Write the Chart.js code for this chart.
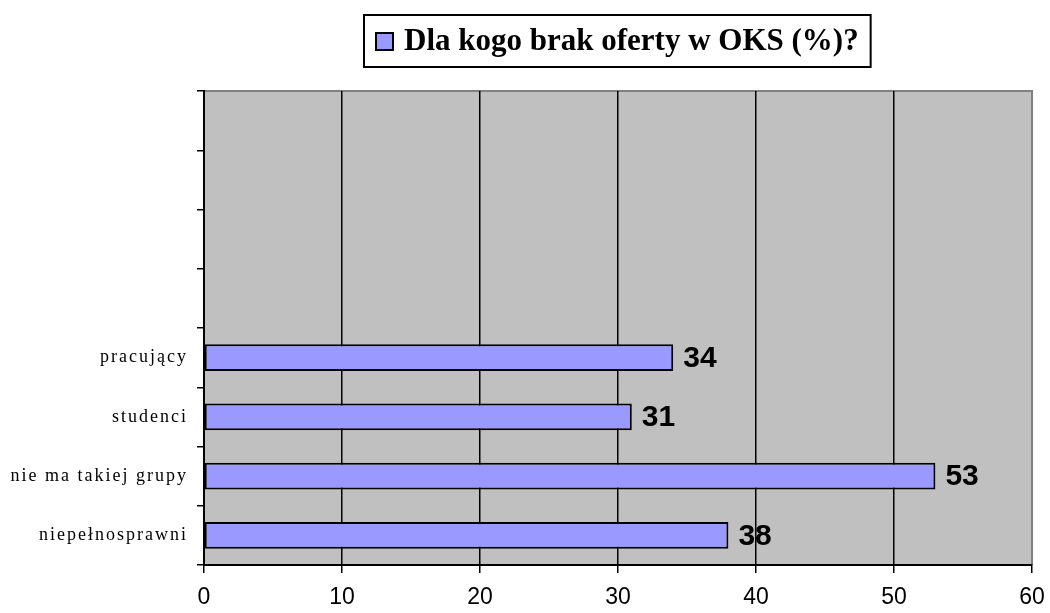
<!DOCTYPE html>
<html>
<head>
<meta charset="utf-8">
<script src="https://cdn.jsdelivr.net/npm/chart.js@4"></script>
<style>
  body { margin: 0; background: #fff; }
</style>
</head>
<body>
<canvas id="chart" width="1050" height="613"></canvas>
<script>
// categories from top to bottom (top four rows are empty in the original)
const categories = ['', '', '', '', 'pracujący', 'studenci', 'nie ma takiej grupy', 'niepełnosprawni'];
const values = [null, null, null, null, 34, 31, 53, 38];
const xTicks = [0, 10, 20, 30, 40, 50, 60];
const seriesName = 'Dla kogo brak oferty w OKS (%)?';

const barFill = '#9999FF';
const plotGray = '#C0C0C0';

const plotBg = {
  id: 'plotBg',
  beforeDraw(chart) {
    const { ctx, chartArea: a } = chart;
    ctx.save();
    ctx.fillStyle = plotGray;
    ctx.fillRect(a.left, a.top, a.right - a.left, a.bottom - a.top);
    ctx.strokeStyle = '#808080';
    ctx.lineWidth = 2;
    ctx.beginPath();
    ctx.moveTo(a.left, a.top);
    ctx.lineTo(a.right, a.top);
    ctx.lineTo(a.right, a.bottom);
    ctx.stroke();
    ctx.restore();
  },
  afterLayout(chart) {
    const y = chart.scales.y;
    if (y && !y._spaced) {
      const orig = y.drawLabels;
      y.drawLabels = function (area) {
        const c = this.ctx;
        c.save();
        c.letterSpacing = '2px';
        orig.call(this, area);
        c.restore();
      };
      y._spaced = true;
    }
  }
};

const valueLabels = {
  id: 'valueLabels',
  afterDatasetsDraw(chart) {
    const { ctx } = chart;
    const meta = chart.getDatasetMeta(0);
    ctx.save();
    ctx.font = 'bold 30px "Liberation Sans", Arial, sans-serif';
    ctx.fillStyle = '#000';
    ctx.textBaseline = 'middle';
    meta.data.forEach((bar, i) => {
      if (values[i] == null) return;
      ctx.fillText(String(values[i]), bar.x + 10, bar.y + 1);
    });
    ctx.restore();
  }
};

const boxedLegend = {
  id: 'boxedLegend',
  afterDraw(chart) {
    const { ctx, chartArea: a } = chart;
    ctx.save();
    ctx.font = 'bold 31px "Liberation Serif", "Times New Roman", serif';
    const tw = ctx.measureText(seriesName).width;
    const sq = 17, pad = 12, gap = 11;
    const w = pad + sq + gap + tw + pad;
    const h = 52;
    const cx = (a.left + a.right) / 2 - 1;
    const x0 = Math.round(cx - w / 2), y0 = 15;
    ctx.fillStyle = '#fff';
    ctx.fillRect(x0, y0, w, h);
    ctx.strokeStyle = '#000';
    ctx.lineWidth = 2;
    ctx.strokeRect(x0, y0, w, h);
    ctx.fillStyle = barFill;
    ctx.fillRect(x0 + pad, y0 + 18, sq, sq);
    ctx.strokeRect(x0 + pad, y0 + 18, sq, sq);
    ctx.fillStyle = '#000';
    ctx.textBaseline = 'middle';
    ctx.fillText(seriesName, x0 + pad + sq + gap, y0 + h / 2 + 1);
    ctx.restore();
  }
};

new Chart(document.getElementById('chart').getContext('2d'), {
  type: 'bar',
  data: {
    labels: categories,
    datasets: [{
      label: seriesName,
      data: values,
      backgroundColor: barFill,
      borderColor: '#000',
      borderWidth: 2,
      borderSkipped: false,
      categoryPercentage: 1,
      barPercentage: 0.45
    }]
  },
  options: {
    indexAxis: 'y',
    responsive: false,
    animation: false,
    layout: { padding: { top: 91, right: 18, left: 0, bottom: 0 } },
    plugins: {
      legend: { display: false },
      tooltip: { enabled: false }
    },
    scales: {
      x: {
        min: 0,
        max: 60,
        afterBuildTicks(s) { s.ticks = xTicks.map(v => ({ value: v })); },
        afterFit(s) { s.height = 48; s.paddingLeft = 0; s.paddingRight = 0; },
        border: { color: '#000', width: 2 },
        grid: {
          color: c => (c.tick && (c.tick.value === 0 || c.tick.value === 60)) ? 'rgba(0,0,0,0)' : '#000',
          lineWidth: 1.5,
          tickColor: '#000',
          tickLength: 8
        },
        ticks: {
          color: '#000',
          padding: 11,
          maxRotation: 0,
          font: { family: '"Liberation Sans", Arial, sans-serif', size: 23 }
        }
      },
      y: {
        afterFit(s) { s.width = 204; },
        border: { color: '#000', width: 2 },
        grid: {
          offset: true,
          drawOnChartArea: false,
          tickColor: '#000',
          tickLength: 7,
          lineWidth: 1.5
        },
        ticks: {
          color: '#000',
          padding: 9,
          font: { family: '"Liberation Serif", "Times New Roman", serif', size: 18 }
        }
      }
    }
  },
  plugins: [plotBg, valueLabels, boxedLegend]
});
</script>
</body>
</html>
